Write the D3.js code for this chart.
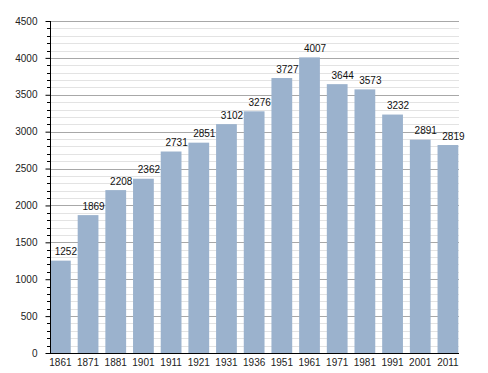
<!DOCTYPE html>
<html><head><meta charset="utf-8">
<script src="https://cdn.jsdelivr.net/npm/d3@7"></script>
<style>
body{margin:0;background:#fff;}
text{font-family:"Liberation Sans",Arial,sans-serif;}
</style></head>
<body><svg id="c" width="488" height="373"></svg>
<script>
const years = ["1861","1871","1881","1901","1911","1921","1931","1936","1951","1961","1971","1981","1991","2001","2011"];
const population = [1252,1869,2208,2362,2731,2851,3102,3276,3727,4007,3644,3573,3232,2891,2819];
const yMajorTicks = [0,500,1000,1500,2000,2500,3000,3500,4000,4500];

(function(){
const svg = d3.select("#c");
const mLeft = 50, mRight = 459, mTop = 21, mBottom = 353;

const x = d3.scaleBand().domain(years).range([mLeft, 458.3]).paddingInner(0.25).paddingOuter(0);
const y = d3.scaleLinear().domain([0, 4500]).range([mBottom, mTop]);

// minor gridlines
const minor = d3.range(0, 4501, 100).filter(v => v % 500 !== 0);
svg.append("g").selectAll("line").data(minor).join("line")
  .attr("x1", mLeft).attr("x2", mRight)
  .attr("y1", d => Math.round(y(d)) + 0.5).attr("y2", d => Math.round(y(d)) + 0.5)
  .attr("stroke", "#e3e3e3").attr("stroke-width", 1);
// major gridlines
svg.append("g").selectAll("line").data(yMajorTicks.filter(v => v > 0)).join("line")
  .attr("x1", mLeft).attr("x2", mRight)
  .attr("y1", d => Math.round(y(d)) + 0.5).attr("y2", d => Math.round(y(d)) + 0.5)
  .attr("stroke", "#a8a8a8").attr("stroke-width", 1);

// bars
svg.append("g").selectAll("rect").data(years).join("rect")
  .attr("x", d => x(d))
  .attr("width", x.bandwidth())
  .attr("y", (d, i) => y(population[i]))
  .attr("height", (d, i) => y(0) - y(population[i]))
  .attr("fill", "#9bb2cd");

// value labels
svg.append("g").selectAll("text").data(years).join("text")
  .attr("x", d => x(d) + x.bandwidth() / 2 + 5.5)
  .attr("y", (d, i) => y(population[i]) - 5.5)
  .attr("text-anchor", "middle")
  .attr("font-size", "10px").attr("fill", "#111")
  .text((d, i) => population[i]);

// y axis
const yAxis = d3.axisLeft(y).tickValues(yMajorTicks).tickSize(5).tickPadding(8).tickFormat(d3.format("d"));
const ga = svg.append("g").attr("transform", `translate(${mLeft + 0.5},0)`).call(yAxis);
ga.select(".domain").remove();
ga.selectAll(".tick line").attr("stroke", "#000");
ga.selectAll(".tick text").attr("font-size", "10px").attr("fill", "#222")
  .style("font-family", '"Liberation Sans",Arial,sans-serif');
// minor ticks
svg.append("g").selectAll("line").data(minor).join("line")
  .attr("x1", mLeft - 3).attr("x2", mLeft)
  .attr("y1", d => Math.round(y(d)) + 0.5).attr("y2", d => Math.round(y(d)) + 0.5)
  .attr("stroke", "#000");
svg.append("line").attr("x1", mLeft + 0.5).attr("x2", mLeft + 0.5).attr("y1", mTop).attr("y2", mBottom)
  .attr("stroke", "#000");

// x axis
const xAxis = d3.axisBottom(x).tickSize(0).tickPadding(6);
const gx = svg.append("g").attr("transform", `translate(0,${mBottom})`).call(xAxis);
gx.select(".domain").remove();
gx.selectAll(".tick text").attr("font-size", "10px").attr("fill", "#222")
  .style("font-family", '"Liberation Sans",Arial,sans-serif');
svg.append("line").attr("x1", mLeft).attr("x2", mRight).attr("y1", mBottom + 0.5).attr("y2", mBottom + 0.5)
  .attr("stroke", "#000");
})();
</script></body></html>
